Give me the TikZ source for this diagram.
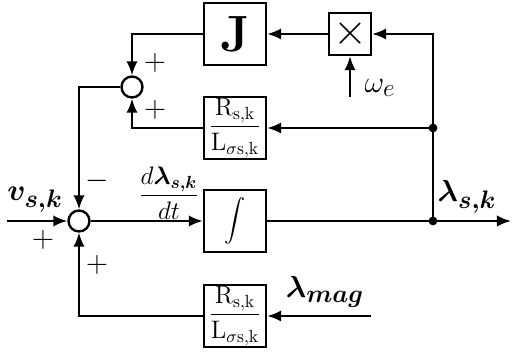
\documentclass[tikz,border=0pt]{standalone}
\usepackage{amsmath,bm}
\usetikzlibrary{arrows.meta}
\begin{document}
\begin{tikzpicture}[x=0.02cm,y=-0.02cm,
  line width=1.35pt,
  arr/.style={-{Latex[length=8pt,width=6.5pt]}},
  blk/.style={draw,minimum width=1.24cm,minimum height=1.24cm,inner sep=0pt},
  smallblk/.style={draw,minimum width=0.84cm,minimum height=0.84cm,inner sep=0pt},
  sumc/.style={draw,circle,minimum size=0.42cm,inner sep=0pt},
  sgn/.style={font=\fontsize{19}{19}\selectfont,inner sep=0pt},
  lbl/.style={font=\fontsize{19}{19}\selectfont,inner sep=0pt},
  frc/.style={font=\fontsize{14.5}{16}\selectfont},
  dot/.style={fill,circle,minimum size=5pt,inner sep=0pt}]
\useasboundingbox (0,0) rectangle (512,354);
% blocks
\node[blk,font=\fontsize{29}{29}\selectfont\bfseries] (J) at (235,34) {J};
\node[smallblk,font=\fontsize{28}{28}\selectfont] (mul) at (350,34) {$\times$};
\node[blk,frc] (fb1) at (235,128) {$\dfrac{\mathrm{R_{s,k}}}{\mathrm{L_{\sigma s,k}}}$};
\node[blk,font=\fontsize{13}{13}\selectfont] (int) at (235,221) {$\displaystyle\int$};
\node[blk,frc] (fb2) at (235,316) {$\dfrac{\mathrm{R_{s,k}}}{\mathrm{L_{\sigma s,k}}}$};
\node[sumc] (s1) at (132,87) {};
\node[sumc] (s2) at (79,221) {};
% coordinates
\coordinate (d1) at (433,128);
\coordinate (d2) at (433,221);
\coordinate (out) at (511,221);
\coordinate (in) at (7,221);
\coordinate (w) at (350,97);
\coordinate (lm) at (371,316);
% connectors
\draw[arr] (d2) |- (mul.east);
\draw[arr] (mul.west) -- (J.east);
\draw[arr] (w) -- (mul.south);
\draw[arr] (J.west) -| (s1.north);
\draw[arr] (d1) -- (fb1.east);
\draw[arr] (fb1.west) -| (s1.south);
\draw[arr] (s1.west) -| (s2.north);
\draw[arr] (in) -- (s2.west);
\draw[arr] (s2.east) -- (int.west);
\draw[arr] (int.east) -- (out);
\draw[arr] (lm) -- (fb2.east);
\draw[arr] (fb2.west) -| (s2.south);
\node[dot] (dot1) at (d1) {};
\node[dot] (dot2) at (d2) {};
% signs
\node[sgn] (p1) at (155,63) {$+$};
\node[sgn] (p2) at (155,110) {$+$};
\node[sgn] (m1) at (97,181) {$-$};
\node[sgn] (p3) at (43,240) {$+$};
\node[sgn] (p4) at (97,265) {$+$};
% labels
\node[lbl] (lw) at (380,88) {$\omega_e$};
\node[lbl] (lv) at (35,200) {$\bm{v_{s,k}}$};
\node[font=\fontsize{14}{14}\selectfont,inner sep=0pt] (ld) at (169,193) {$\dfrac{d\bm{\lambda_{s,k}}}{dt}$};
\node[lbl] (ll) at (467,197) {$\bm{\lambda_{s,k}}$};
\node[lbl] (lmag) at (325,292) {$\bm{\lambda_{mag}}$};
\end{tikzpicture}
\end{document}
